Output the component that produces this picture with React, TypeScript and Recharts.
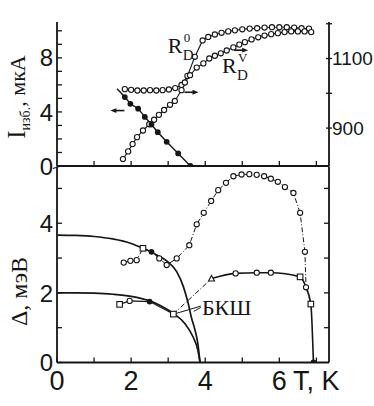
import {
  ComposedChart,
  Line,
  XAxis,
  YAxis,
  ReferenceDot,
  ReferenceLine,
} from 'recharts';

const INK = '#161616';
const SANS = '"Liberation Sans", Arial, sans-serif';
const SERIF = '"Liberation Serif", "Times New Roman", serif';

// ---- top panel: R_D (right axis) and I_изб (left axis) vs T, K
const rd0T = [1.83, 2.0, 2.17, 2.34, 2.51, 2.68, 2.85, 3.02, 3.19, 3.36, 3.52, 3.72, 3.93, 4.08, 4.26, 4.44, 4.62, 4.8, 5.0, 5.2, 5.4, 5.6, 5.8, 6.0, 6.2, 6.4, 6.6, 6.8];
const rd0R = [1012, 1010, 1008, 1008, 1009, 1008, 1009, 1011, 1015, 1024, 1050, 1105, 1152, 1162, 1169, 1174, 1178, 1181, 1184, 1186, 1187, 1189, 1190, 1190, 1190, 1189, 1187, 1186];

const rdvT = [1.78, 1.92, 2.04, 2.16, 2.32, 2.49, 2.62, 2.75, 2.89, 3.05, 3.18, 3.36, 3.45, 3.59, 3.77, 3.95, 4.11, 4.26, 4.42, 4.58, 4.76, 4.92, 5.07, 5.25, 5.43, 5.6, 5.78, 5.96, 6.14, 6.32, 6.5, 6.68, 6.86];
const rdvR = [811, 833, 854, 874, 893, 911, 924, 938, 952, 967, 978, 1009, 1031, 1052, 1074, 1086, 1100, 1108, 1115, 1123, 1132, 1140, 1147, 1155, 1161, 1166, 1170, 1173, 1176, 1178, 1178, 1178, 1176];

const iT = [1.62, 1.83, 1.98, 2.19, 2.37, 2.55, 2.72, 2.96, 3.27, 3.6];
const iVal = [5.71, 5.1, 4.6, 4.24, 3.63, 3.07, 2.5, 1.79, 0.93, 0];
const iMarks = ['', 'f', 'f', 'f', 'f', 'f', 'f', 'f', 'f', 'f'];

// ---- bottom panel: gap Δ, мэВ vs T, K
const bcsHiT = [0, 0.5, 1, 1.5, 2, 2.32, 2.69, 2.96, 3.23, 3.41, 3.54, 3.63, 3.72, 3.8, 3.86];
const bcsHiD = [3.66, 3.65, 3.62, 3.55, 3.42, 3.28, 3.09, 2.92, 2.61, 2.18, 1.7, 1.28, 0.95, 0.55, 0];

const bcsLoT = [0, 0.5, 1, 1.5, 2, 2.5, 2.8, 3.15, 3.45, 3.67, 3.8, 3.86];
const bcsLoD = [2.0, 2.0, 1.99, 1.96, 1.9, 1.77, 1.63, 1.4, 1.12, 0.74, 0.36, 0];

const gapAT = [1.8, 1.98, 2.15, 2.32, 2.55, 2.76, 2.96, 3.23, 3.57, 3.77, 3.96, 4.16, 4.35, 4.56, 4.76, 4.98, 5.19, 5.39, 5.59, 5.77, 5.96, 6.15, 6.38, 6.56, 6.69, 6.72, 6.85];
const gapAD = [2.87, 2.92, 2.94, 3.28, 3.18, 2.99, 2.8, 2.99, 3.37, 3.97, 4.3, 4.64, 4.95, 5.16, 5.35, 5.4, 5.41, 5.39, 5.35, 5.28, 5.19, 5.04, 4.87, 4.3, 3.18, 2.18, 1.68];
const gapAMarks = ['o', 'o', 'o', 's', 'f', 'o', 'o', 'o', 'o', 'o', 'o', 'o', 'o', 'o', 'o', 'o', 'o', 'o', 'o', 'o', 'o', 'o', 'o', 'o', 'o', '', ''];

const gapBT = [1.69, 1.96, 2.5, 3.14, 4.17, 4.82, 5.39, 5.77, 6.56, 6.72, 6.85, 6.92];
const gapBD = [1.67, 1.77, 1.75, 1.39, 2.41, 2.56, 2.58, 2.58, 2.46, 2.16, 1.68, 0];
const gapBMarks = ['s', 'o', 'f', 's', 't', 'o', 'o', 'o', 's', 'o', 's', 'f'];

// ---- axes
const tDomain: [number, number] = [0, 7.34];
const tTicks = [0, 1, 2, 3, 4, 5, 6, 7];
const tLabels = [0, 2, 4, 6];
const iDomain: [number, number] = [0, 10.65];
const iTicks = [0, 1, 2, 3, 4, 5, 6, 7, 8, 9, 10];
const iLabels = [0, 4, 8];
const rDomain: [number, number] = [791, 1205];
const rTicks = [900, 1000, 1100, 1200];
const rLabels = [900, 1100];
const dDomain: [number, number] = [0, 5.63];
const dTicks = [0, 1, 2, 3, 4, 5];
const dLabels = [0, 2, 4];

const pts = (xs: number[], ys: number[]) => xs.map((x, i) => ({ x, y: ys[i] }));

function Mark({ cx, cy, kind }: { cx?: number; cy?: number; kind: string }) {
  if (cx == null || cy == null || !kind) return <g />;
  if (kind === 'f') return <circle cx={cx} cy={cy} r={2.9} fill={INK} />;
  if (kind === 's')
    return <rect x={cx - 2.8} y={cy - 2.8} width={5.6} height={5.6} fill="#fff" stroke={INK} strokeWidth={1.1} />;
  if (kind === 't')
    return <path d={`M${cx},${cy - 3.2} L${cx + 3},${cy + 2.4} L${cx - 3},${cy + 2.4} Z`} fill="#fff" stroke={INK} strokeWidth={1.1} />;
  return <circle cx={cx} cy={cy} r={2.6} fill="#fff" stroke={INK} strokeWidth={1.1} />;
}

const dotsFrom = (marks: string[]) => (p: any) => <Mark key={`m${p.index}`} cx={p.cx} cy={p.cy} kind={marks[p.index]} />;
const openDots = (p: any) => <Mark key={`o${p.index}`} cx={p.cx} cy={p.cy} kind="o" />;

function LeftTick(props: any) {
  const { x, y, payload, labels } = props;
  const edge = x + 4;
  return (
    <g>
      <line x1={edge} x2={edge + 5} y1={y} y2={y} stroke={INK} strokeWidth={1.3} />
      {labels.includes(payload.value) && (
        <text x={x} y={y} dy="0.36em" textAnchor="end" fontFamily={SANS} fontSize={24} fill={INK}>
          {payload.value}
        </text>
      )}
    </g>
  );
}

function BottomTick(props: any) {
  const { x, y, payload, labels, gap } = props;
  const edge = y - gap;
  return (
    <g>
      <line x1={x} x2={x} y1={edge} y2={edge - 5} stroke={INK} strokeWidth={1.3} />
      {labels && labels.includes(payload.value) && (
        <text x={x} y={y} dy="0.71em" textAnchor="middle" fontFamily={SANS} fontSize={27} fill={INK}>
          {payload.value}
        </text>
      )}
    </g>
  );
}

function RightTick(props: any) {
  const { x, y, payload, labels } = props;
  if (!labels) return <line x1={x} x2={x - 5} y1={y} y2={y} stroke={INK} strokeWidth={1.3} />;
  return (
    <g>
      <line x1={x - 3} x2={x + 3} y1={y} y2={y} stroke={INK} strokeWidth={1.3} />
      {labels.includes(payload.value) && (
        <text x={x + 3} y={y} dy="0.36em" textAnchor="start" fontFamily={SANS} fontSize={19} fill={INK}>
          {payload.value}
        </text>
      )}
    </g>
  );
}

const arrow = (dir: number) => (p: any) => {
  const { cx, cy } = p;
  const tip = cx + 7 * dir;
  return (
    <g>
      <line x1={cx - 7 * dir} x2={tip - 4 * dir} y1={cy} y2={cy} stroke={INK} strokeWidth={1.6} />
      <path d={`M${tip},${cy} L${tip - 6 * dir},${cy - 2.4} L${tip - 6 * dir},${cy + 2.4} Z`} fill={INK} />
    </g>
  );
};

const rLabel = (sup: string) => (p: any) => (
  <g fontFamily={SERIF} fill={INK}>
    <text x={p.cx} y={p.cy} fontSize={22}>R</text>
    <text x={p.cx + 16} y={p.cy - 11} fontSize={13}>{sup}</text>
    <text x={p.cx + 15} y={p.cy + 7} fontSize={15}>D</text>
  </g>
);

const axisStyle = { stroke: INK, strokeWidth: 1.8 };

export default function App() {
  return (
    <div style={{ position: 'absolute', left: 0, top: 0, width: 374, height: 406, background: '#fff' }}>
      <div style={{ position: 'absolute', left: 0, top: 166 }}>
        <ComposedChart width={374} height={240} margin={{ top: 0.5, right: 0, bottom: 0, left: 0 }}>
          <XAxis type="number" dataKey="x" domain={tDomain} allowDataOverflow ticks={tTicks} interval={0}
            height={43.5} tickSize={0} tickMargin={8.5} tickLine={false} axisLine={axisStyle}
            tick={(p: any) => <BottomTick {...p} labels={tLabels} gap={8.5} />}
            label={{
              content: ({ viewBox }: any) => (
                <text x={viewBox.x + 236} y={viewBox.y + 8.5} dy="0.71em" fontFamily={SANS} fontSize={27} fill={INK}>
                  T, K
                </text>
              ),
            }} />
          <YAxis yAxisId="D" type="number" domain={dDomain} allowDataOverflow ticks={dTicks} interval={0} width={57}
            tickSize={0} tickMargin={4} tickLine={false} axisLine={axisStyle}
            tick={(p: any) => <LeftTick {...p} labels={dLabels} />}
            label={{
              content: ({ viewBox }: any) => {
                const cx = viewBox.x + 27;
                const cy = viewBox.y + viewBox.height / 2 + 27;
                return (
                  <text x={cx} y={cy} transform={`rotate(-90 ${cx} ${cy})`} textAnchor="middle"
                    fontFamily={SERIF} fontSize={24} fill={INK}>
                    Δ, мэВ
                  </text>
                );
              },
            }} />
          <YAxis yAxisId="Dr" orientation="right" type="number" domain={dDomain} allowDataOverflow ticks={dTicks.slice(1)}
            interval={0} width={45} tickSize={0} tickMargin={0} tickLine={false} axisLine={axisStyle}
            tick={(p: any) => <RightTick {...p} />} />

          <Line yAxisId="D" data={pts(bcsHiT, bcsHiD)} dataKey="y" type="monotone" stroke={INK} strokeWidth={1.7}
            dot={false} isAnimationActive={false} />
          <Line yAxisId="D" data={pts(bcsLoT, bcsLoD)} dataKey="y" type="monotone" stroke={INK} strokeWidth={1.7}
            dot={false} isAnimationActive={false} />
          <Line yAxisId="D" data={pts(gapAT, gapAD)} dataKey="y" type="linear" stroke={INK} strokeWidth={1}
            strokeDasharray="5 2 1 2" dot={dotsFrom(gapAMarks)} isAnimationActive={false} />
          <Line yAxisId="D" data={pts(gapBT.slice(0, 4), gapBD.slice(0, 4))} dataKey="y" type="linear" stroke={INK}
            strokeWidth={1.1} dot={false} isAnimationActive={false} />
          <Line yAxisId="D" data={pts(gapBT.slice(3, 5), gapBD.slice(3, 5))} dataKey="y" type="linear" stroke={INK}
            strokeWidth={1} strokeDasharray="5 2 1 2" dot={false} isAnimationActive={false} />
          <Line yAxisId="D" data={pts(gapBT.slice(4), gapBD.slice(4))} dataKey="y" type="monotone" stroke={INK}
            strokeWidth={1.6} dot={false} isAnimationActive={false} />
          <Line yAxisId="D" data={pts(gapBT, gapBD)} dataKey="y" stroke="none" dot={dotsFrom(gapBMarks)}
            isAnimationActive={false} />

          <ReferenceLine yAxisId="D" segment={[{ x: 3.12, y: 1.38 }, { x: 3.88, y: 1.62 }]} stroke={INK} strokeWidth={1} />
          <ReferenceLine yAxisId="D" segment={[{ x: 3.69, y: 1.47 }, { x: 3.88, y: 1.58 }]} stroke={INK} strokeWidth={1} />
          <ReferenceDot yAxisId="D" x={3.91} y={1.36} shape={(p: any) => (
            <text x={p.cx} y={p.cy} fontFamily={SERIF} fontSize={22} fill={INK}>БКШ</text>
          )} />
          <ReferenceDot yAxisId="D" x={0} y={5.63} shape={(p: any) => (
            <g stroke={INK} strokeWidth={1.2}>
              <line x1={p.cx - 4} y1={p.cy - 1} x2={p.cx + 4} y2={p.cy - 3.5} />
              <line x1={p.cx - 4} y1={p.cy + 2} x2={p.cx + 4} y2={p.cy - 0.5} />
            </g>
          )} />
        </ComposedChart>
      </div>

      <div style={{ position: 'absolute', left: 0, top: 0 }}>
        <ComposedChart width={374} height={180} margin={{ top: 22, right: 0, bottom: 13.5, left: 0 }}>
          <XAxis type="number" dataKey="x" domain={tDomain} allowDataOverflow ticks={tTicks.slice(1)} interval={0}
            height={0.5} tickSize={0} tickMargin={0} tickLine={false} axisLine={axisStyle}
            tick={(p: any) => <BottomTick {...p} gap={0} />} />
          <XAxis xAxisId="top" orientation="top" type="number" domain={tDomain} allowDataOverflow height={0}
            tick={false} tickLine={false} axisLine={axisStyle} />
          <YAxis yAxisId="I" type="number" domain={iDomain} allowDataOverflow ticks={iTicks} interval={0} width={57}
            tickSize={0} tickMargin={4} tickLine={false} axisLine={axisStyle}
            tick={(p: any) => <LeftTick {...p} labels={iLabels} />}
            label={{
              content: ({ viewBox }: any) => {
                const cx = viewBox.x + 25;
                const cy = viewBox.y + viewBox.height / 2 + 3;
                return (
                  <text x={cx} y={cy} transform={`rotate(-90 ${cx} ${cy})`} textAnchor="middle"
                    fontFamily={SERIF} fontSize={25} fill={INK}>
                    I<tspan fontSize={14} dy={5}>изб.</tspan><tspan dy={-5} fontSize={22}>, мкА</tspan>
                  </text>
                );
              },
            }} />
          <YAxis yAxisId="R" orientation="right" type="number" domain={rDomain} allowDataOverflow ticks={rTicks}
            interval={0} width={45} tickSize={0} tickMargin={0} tickLine={false} axisLine={axisStyle}
            tick={(p: any) => <RightTick {...p} labels={rLabels} />} />

          <Line yAxisId="R" data={pts(rd0T, rd0R)} dataKey="y" type="linear" stroke={INK} strokeWidth={1.1}
            dot={openDots} isAnimationActive={false} />
          <Line yAxisId="R" data={pts(rdvT, rdvR)} dataKey="y" type="linear" stroke={INK} strokeWidth={1.1}
            dot={openDots} isAnimationActive={false} />
          <Line yAxisId="I" data={pts(iT, iVal)} dataKey="y" type="linear" stroke={INK} strokeWidth={1.4}
            dot={dotsFrom(iMarks)} isAnimationActive={false} />

          <ReferenceDot yAxisId="I" x={1.63} y={4.1} shape={arrow(-1)} />
          <ReferenceDot yAxisId="R" x={3.63} y={1003} shape={arrow(1)} />
          <ReferenceDot yAxisId="R" x={4.97} y={1124} shape={arrow(1)} />
          <ReferenceDot yAxisId="R" x={2.99} y={1115} shape={rLabel('0')} />
          <ReferenceDot yAxisId="R" x={4.45} y={1058} shape={rLabel('V')} />
        </ComposedChart>
      </div>
    </div>
  );
}
